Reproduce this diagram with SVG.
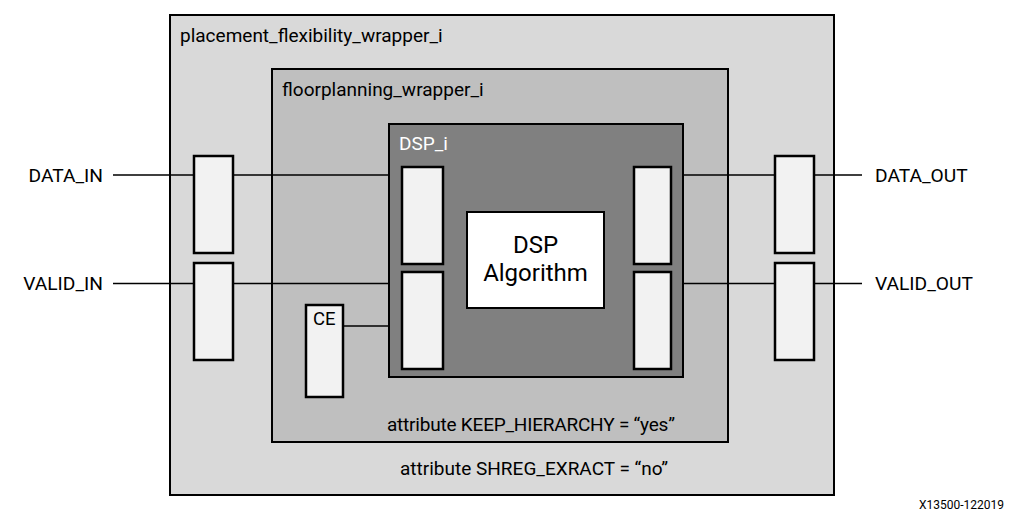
<svg xmlns="http://www.w3.org/2000/svg" width="1014" height="519" viewBox="0 0 1014 519">
<style>
.box{stroke:#000;stroke-width:2}
.reg{fill:#f2f2f2;stroke:#000;stroke-width:2.5}
.w{stroke:#000;stroke-width:1.3;fill:none}
text{font-family:Roboto,"Liberation Sans",sans-serif;font-size:19px;fill:#000}
.port{font-size:19.2px}
</style>
<rect width="1014" height="519" fill="#fff"/>
<g id="placement_flexibility_wrapper_i">
<rect class="box" x="170" y="15" width="664" height="480" fill="#d9d9d9"/>
<text x="180" y="42">placement_flexibility_wrapper_i</text>
<text x="400" y="475" textLength="268">attribute SHREG_EXRACT = “no”</text>
</g>
<g id="floorplanning_wrapper_i">
<rect class="box" x="272" y="69" width="456" height="373" fill="#bfbfbf"/>
<text x="282" y="96">floorplanning_wrapper_i</text>
<text x="387" y="431" textLength="288">attribute KEEP_HIERARCHY = “yes”</text>
</g>
<g id="DSP_i">
<rect class="box" x="389" y="124" width="294" height="253" fill="#808080"/>
<text x="399" y="150" style="fill:#fff">DSP_i</text>
</g>
<g id="dsp_algorithm">
<rect class="box" x="467" y="212" width="137" height="96" fill="#fff"/>
<text x="535.5" y="253" text-anchor="middle" style="font-size:24px">DSP</text>
<text x="535.5" y="281" text-anchor="middle" style="font-size:24px">Algorithm</text>
</g>
<g id="reg_in_data"><rect class="reg" x="194" y="156" width="39" height="97"/></g>
<g id="reg_in_valid"><rect class="reg" x="194" y="263" width="39" height="97"/></g>
<g id="reg_dsp_in_data"><rect class="reg" x="402" y="167" width="41" height="97"/></g>
<g id="reg_dsp_in_valid"><rect class="reg" x="402" y="272" width="41" height="97"/></g>
<g id="reg_dsp_out_data"><rect class="reg" x="634" y="167" width="37" height="97"/></g>
<g id="reg_dsp_out_valid"><rect class="reg" x="634" y="272" width="37" height="97"/></g>
<g id="reg_out_data"><rect class="reg" x="775" y="156" width="39" height="97"/></g>
<g id="reg_out_valid"><rect class="reg" x="775" y="263" width="39" height="97"/></g>
<g id="CE">
<rect class="reg" x="306" y="305" width="37" height="92"/>
<text x="313" y="325" style="font-size:18.5px">CE</text>
</g>
<g id="ports">
<text class="port" x="103" y="182" text-anchor="end">DATA_IN</text>
<text class="port" x="103" y="290" text-anchor="end">VALID_IN</text>
<text class="port" x="875" y="182">DATA_OUT</text>
<text class="port" x="875" y="290">VALID_OUT</text>
</g>
<g id="connectors">
<path class="w" d="M113 175H194M233 175H389M683 175H775M814 175H862"/>
<path class="w" d="M113 283.5H194M233 283.5H389M683 283.5H775M814 283.5H862"/>
<path class="w" d="M343 326H389"/>
</g>
<text x="1004" y="509" text-anchor="end" style="font-size:12px">X13500-122019</text>
</svg>
